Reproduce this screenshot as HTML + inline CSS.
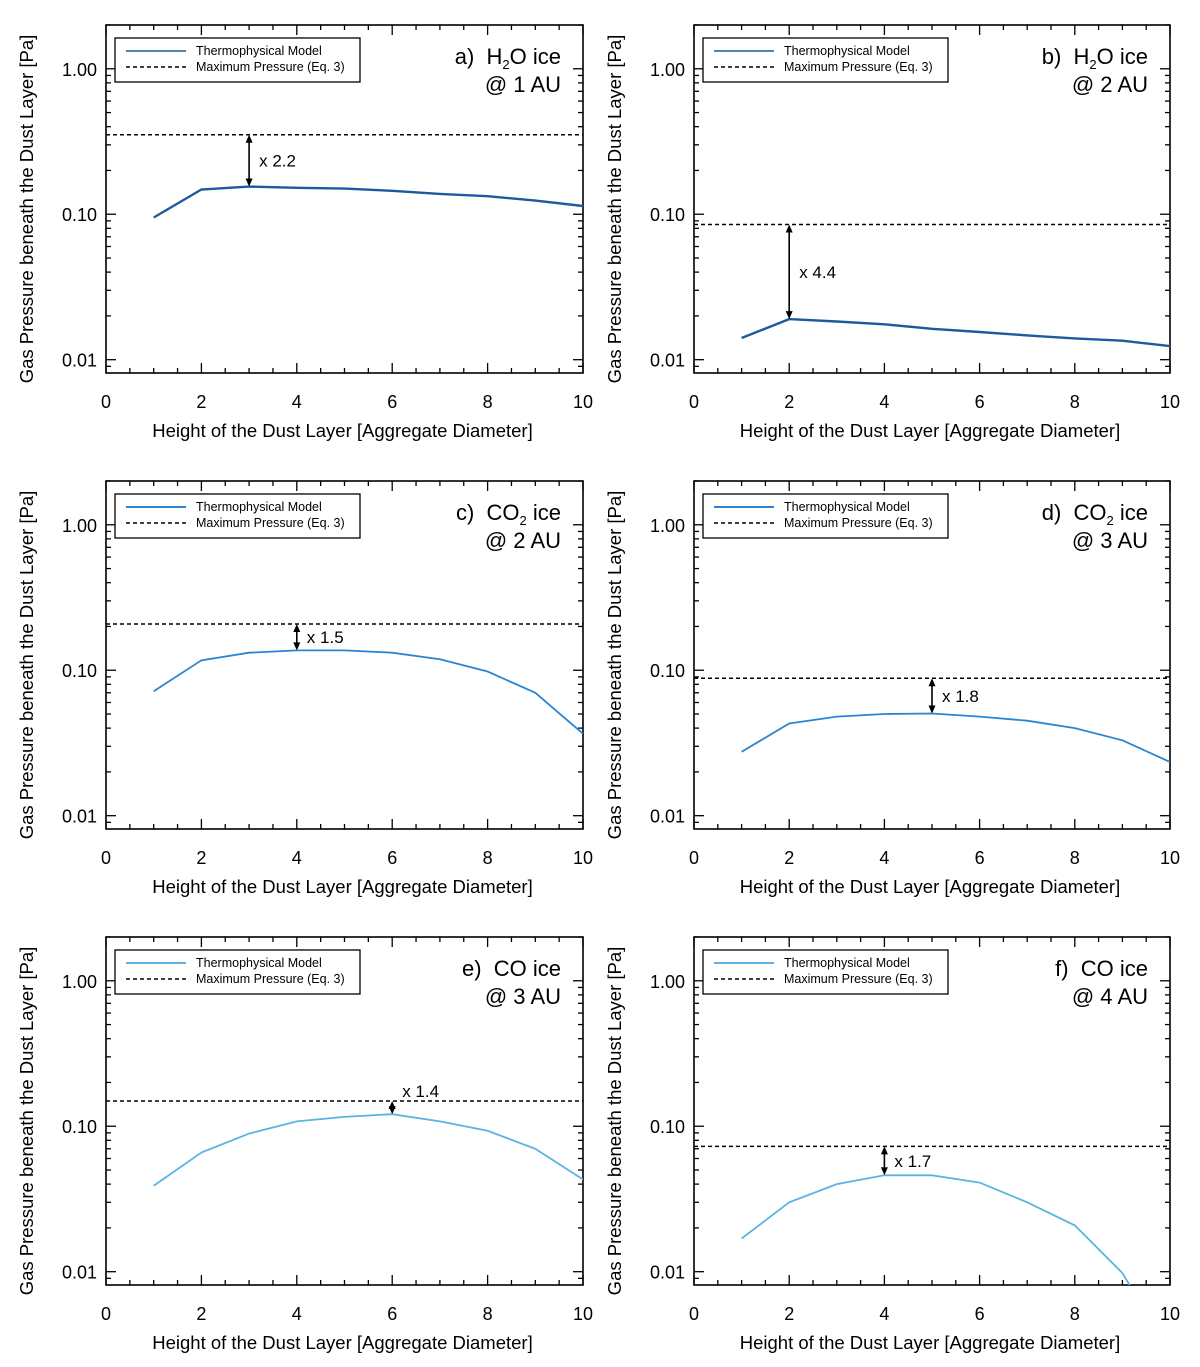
<!DOCTYPE html>
<html><head><meta charset="utf-8"><style>
body{margin:0;background:#fff;}
svg{display:block;font-family:"Liberation Sans",sans-serif;}
</style></head><body>
<svg id="fig" width="1200" height="1367" viewBox="0 0 1200 1367"></svg>
<script>
const xs = [1,2,3,4,5,6,7,8,9,10];
const seriesA = [0.095,0.148,0.155,0.152,0.150,0.145,0.138,0.133,0.124,0.114];
const seriesB = [0.0141,0.019,0.0183,0.0175,0.0163,0.0155,0.0147,0.0140,0.0135,0.0124];
const seriesC = [0.0716,0.117,0.132,0.137,0.137,0.132,0.119,0.098,0.070,0.0366];
const seriesD = [0.0275,0.043,0.048,0.050,0.0504,0.048,0.045,0.040,0.033,0.0234];
const seriesE = [0.039,0.066,0.089,0.108,0.116,0.121,0.108,0.093,0.070,0.043];
const seriesF = [0.0169,0.030,0.040,0.046,0.046,0.041,0.030,0.0208,0.0098,0.0028];
const maxP = [0.352,0.085,0.208,0.088,0.149,0.0727];
const arrowX = [3,2,4,5,6,4];
const factors = ["x 2.2","x 4.4","x 1.5","x 1.8","x 1.4","x 1.7"];
const letters = ["a)","b)","c)","d)","e)","f)"];
const species = [["H","2","O ice"],["H","2","O ice"],["CO","2"," ice"],["CO","2"," ice"],["CO","",""],["CO","",""]];
const distances = ["@ 1 AU","@ 2 AU","@ 2 AU","@ 3 AU","@ 3 AU","@ 4 AU"];
const xTicks = [0,2,4,6,8,10];
const yTicks = [1,0.1,0.01];
const yTickLabels = ["1.00","0.10","0.01"];
const allSeries = [seriesA,seriesB,seriesC,seriesD,seriesE,seriesF];
const colors = ["#1c5a9e","#1c5a9e","#2a86d2","#2a86d2","#5cb3e2","#5cb3e2"];

const NS="http://www.w3.org/2000/svg";
const svg=document.getElementById('fig');
function mk(tag,attrs,parent){const e=document.createElementNS(NS,tag);for(const k in attrs)e.setAttribute(k,attrs[k]);(parent||svg).appendChild(e);return e;}

const YMIN=Math.log10(0.0081), YMAX=Math.log10(2.0);
for(let p=0;p<6;p++){
  const col=p%2,row=Math.floor(p/2);
  const L=col?694:106, R=col?1170:583;
  const T=25+row*456, B=373+row*456;
  const X=v=>L+(v/10)*(R-L);
  const Y=v=>B-(Math.log10(v)-YMIN)/(YMAX-YMIN)*(B-T);
  const g=mk('g',{});
  
  
  const clipId='clip'+p;
  const cp=mk('clipPath',{id:clipId},g);mk('rect',{x:L,y:T,width:R-L,height:B-T},cp);
  for(let t=0;t<=10;t+=0.5){
    const len=(t%2===0)?10:5;
    mk('line',{x1:X(t),x2:X(t),y1:B,y2:B-len,stroke:'#000','stroke-width':1.3},g);
    mk('line',{x1:X(t),x2:X(t),y1:T,y2:T+len,stroke:'#000','stroke-width':1.3},g);
  }
  for(let d=-3;d<=0;d++){for(let m=1;m<=9;m++){
    const v=m*Math.pow(10,d);if(v<0.0081||v>2)continue;
    const len=m===1?10:5;
    mk('line',{x1:L,x2:L+len,y1:Y(v),y2:Y(v),stroke:'#000','stroke-width':1.3},g);
    mk('line',{x1:R,x2:R-len,y1:Y(v),y2:Y(v),stroke:'#000','stroke-width':1.3},g);
  }}
  xTicks.forEach(t=>{const tx=mk('text',{x:X(t),y:B+35,'font-size':18,'text-anchor':'middle'},g);tx.textContent=t;
    
    });
  yTicks.forEach((t,i)=>{const tx=mk('text',{x:L-9,y:Y(t)+7,'font-size':18,'text-anchor':'end'},g);tx.textContent=yTickLabels[i];
    
    });
  const frame=mk('rect',{x:L,y:T,width:R-L,height:B-T,fill:'none',stroke:'#000','stroke-width':1.6},g);
  
  
  const dl=mk('line',{x1:L,x2:R,y1:Y(maxP[p]),y2:Y(maxP[p]),stroke:'#000','stroke-width':1.5,'stroke-dasharray':'4,3'},g);
  
  
  const s=allSeries[p];
  const pts=xs.map((x,i)=>X(x).toFixed(1)+','+Y(s[i]).toFixed(1)).join(' ');
  const pl=mk('polyline',{points:pts,fill:'none',stroke:colors[p],'stroke-width':p<2?2.4:1.8,'clip-path':'url(#'+clipId+')'},g);
  
  
  const ax=X(arrowX[p]), ya=Y(maxP[p]), yb=Y(s[xs.indexOf(arrowX[p])]);
  const ar=mk('g',{},g);
  
  
  mk('line',{x1:ax,x2:ax,y1:ya+2,y2:yb-2,stroke:'#000','stroke-width':1.6},ar);
  mk('polygon',{points:`${ax},${ya} ${ax-3.5},${ya+8} ${ax+3.5},${ya+8}`,fill:'#000'},ar);
  mk('polygon',{points:`${ax},${yb} ${ax-3.5},${yb-8} ${ax+3.5},${yb-8}`,fill:'#000'},ar);
  const ft=mk('text',{x:ax+10,y:(ya+yb)/2+6,'font-size':17},g);ft.textContent=factors[p];
  if(p===4){ft.setAttribute('y',ya-4);}
  
  
  const lg=mk('g',{},g);
  
  
  mk('rect',{x:L+9,y:T+13,width:245,height:44,fill:'#fff',stroke:'#000','stroke-width':1.3},lg);
  mk('line',{x1:L+20,x2:L+80,y1:T+26,y2:T+26,stroke:colors[p],'stroke-width':p<2?1.4:2},lg);
  mk('line',{x1:L+20,x2:L+80,y1:T+42,y2:T+42,stroke:'#000','stroke-width':1.5,'stroke-dasharray':'4,3'},lg);
  const l1=mk('text',{x:L+90,y:T+30,'font-size':12.5},lg);l1.textContent='Thermophysical Model';
  const l2=mk('text',{x:L+90,y:T+46,'font-size':12.5},lg);l2.textContent='Maximum Pressure (Eq. 3)';
  const sp=species[p];
  const t1=mk('text',{x:R-22,y:T+39,'font-size':22,'text-anchor':'end'},g);
  
  
  t1.setAttribute('xml:space','preserve');
  const a=mk('tspan',{},t1);a.textContent=letters[p]+'\u00a0\u00a0'+sp[0];
  if(sp[1]){const b=mk('tspan',{'font-size':13,dy:5},t1);b.textContent=sp[1];const c=mk('tspan',{dy:-5},t1);c.textContent=sp[2];}
  else{const c=mk('tspan',{},t1);c.textContent=' ice';}
  const t2=mk('text',{x:R-22,y:T+67,'font-size':22,'text-anchor':'end'},g);t2.textContent=distances[p];
  
  
  const xt=mk('text',{x:(L+R)/2-2,y:B+64,'font-size':18.5,'text-anchor':'middle'},g);xt.textContent='Height of the Dust Layer [Aggregate Diameter]';
  
  
  const yx=L-73, yy=(T+B)/2+10;
  const yt=mk('text',{x:yx,y:yy,'font-size':18.5,'text-anchor':'middle',transform:`rotate(-90 ${yx} ${yy})`},g);yt.textContent='Gas Pressure beneath the Dust Layer [Pa]';
  
  
}
</script>
</body></html>
